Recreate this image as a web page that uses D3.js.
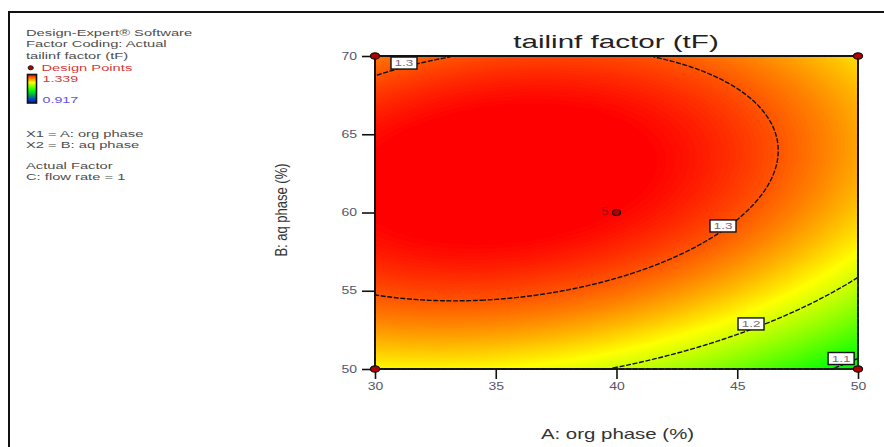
<!DOCTYPE html>
<html>
<head>
<meta charset="utf-8">
<script src="https://cdn.jsdelivr.net/npm/d3@7"></script>
<style>
  html, body { margin: 0; padding: 0; background: #fff; }
  svg { display: block; font-family: "Liberation Sans", Arial, sans-serif; }
</style>
</head>
<body>
<svg id="chart" width="884" height="447"></svg>
<script>
// ---- Data -------------------------------------------------------------
// Fitted quadratic model for the tailing factor, in coded units (a, b in [-1, 1]):
// tF = b0 + bA·a + bB·b + bAB·a·b + bAA·a² + bBB·b²
const modelTerms = ["Intercept", "A", "B", "AB", "A^2", "B^2"];
const modelCoefs = [1.3376, -0.0467, 0.0532, 0.0231, -0.0444, -0.0868];

const rangeA = [30, 50];          // A: org phase (%)
const rangeB = [50, 70];          // B: aq phase (%)
const ticksA = [30, 35, 40, 45, 50];
const ticksB = [50, 55, 60, 65, 70];

const responseRange = [0.917, 1.339];   // observed tF, min / max
const contourLevels = [1.1, 1.2, 1.3];

// contour label anchors (level, A, B)
const labelLevels = [1.3, 1.3, 1.2, 1.1];
const labelA = [31.2, 44.41, 45.57, 49.3];
const labelB = [69.55, 59.14, 52.88, 50.67];

// design points (A, B, replicates)
const designA = [30, 50, 30, 50, 40];
const designB = [50, 50, 70, 70, 60];
const designReps = [1, 1, 1, 1, 5];

const legendLines = [
  "Design-Expert\u00AE Software",
  "Factor Coding: Actual",
  "tailinf factor (tF)"
];
const factorLines = ["X1 = A: org phase", "X2 = B: aq phase"];
const actualFactorLines = ["Actual Factor", "C: flow rate = 1"];

// ---- Setup ------------------------------------------------------------
const svg = d3.select("#chart");
const plot = { left: 375, right: 858, top: 56, bottom: 369 };

const x = d3.scaleLinear().domain(rangeA).range([plot.left, plot.right]);
const y = d3.scaleLinear().domain(rangeB).range([plot.bottom, plot.top]);

const midA = (rangeA[0] + rangeA[1]) / 2, halfA = (rangeA[1] - rangeA[0]) / 2;
const midB = (rangeB[0] + rangeB[1]) / 2, halfB = (rangeB[1] - rangeB[0]) / 2;

function tF(A, B) {
  const a = (A - midA) / halfA, b = (B - midB) / halfB;
  const t = [1, a, b, a * b, a * a, b * b];
  return d3.sum(modelCoefs, (c, k) => c * t[k]);
}

const color = d3.scaleLinear()
  .domain([responseRange[0], 1.10, 1.222, responseRange[1]])
  .range(["#0000ff", "#00ff00", "#ffff00", "#ff0000"])
  .clamp(true);

// text helper: Design-Expert exports render text horizontally widened
function addText(parent, px, py, str, o = {}) {
  return parent.append("text")
    .attr("transform", `translate(${px},${py}) scale(${o.sx || 1.5},1)`)
    .attr("text-anchor", o.anchor || "start")
    .attr("font-size", o.size || 10)
    .attr("fill", o.fill || "#4d4d4d")
    .text(str);
}

// ---- Response surface grid ---------------------------------------------
const n = 242, m = 157;
const values = new Array(n * m);
for (let j = 0; j < m; j++) {
  for (let i = 0; i < n; i++) {
    const A = rangeA[0] + (i + 0.5) * (rangeA[1] - rangeA[0]) / n;
    const B = rangeB[1] - (j + 0.5) * (rangeB[1] - rangeB[0]) / m;
    values[j * n + i] = tF(A, B);
  }
}
const gx = d3.scaleLinear().domain([0, n]).range(rangeA);
const gy = d3.scaleLinear().domain([0, m]).range([rangeB[1], rangeB[0]]);
const path = d3.geoPath(d3.geoTransform({
  point(px, py) { this.stream.point(x(gx(px)), y(gy(py))); }
}));

// filled colour bands
const step = 0.002;
const bandThresholds = d3.range(1.0, 1.36, step);
const gFill = svg.append("g");
gFill.append("rect")
  .attr("x", plot.left).attr("y", plot.top)
  .attr("width", plot.right - plot.left).attr("height", plot.bottom - plot.top)
  .attr("fill", color(d3.min(values)));
gFill.selectAll("path")
  .data(d3.contours().size([n, m]).thresholds(bandThresholds)(values))
  .join("path")
  .attr("d", path)
  .attr("fill", d => color(d.value + step / 2))
  .attr("stroke", d => color(d.value + step / 2))
  .attr("stroke-width", 0.6);

// contour lines
svg.append("g")
  .selectAll("path")
  .data(d3.contours().size([n, m]).thresholds(contourLevels)(values))
  .join("path")
  .attr("d", path)
  .attr("fill", "none")
  .attr("stroke", "#111")
  .attr("stroke-width", 1.4)
  .attr("stroke-dasharray", "5,1.6");

// ---- Axes ---------------------------------------------------------------
const xAxis = svg.append("g")
  .attr("transform", `translate(0,${plot.bottom})`)
  .call(d3.axisBottom(x).tickValues(ticksA).tickSize(10).tickPadding(4).tickFormat(d3.format("d")));
const yAxis = svg.append("g")
  .attr("transform", `translate(${plot.left},0)`)
  .call(d3.axisLeft(y).tickValues(ticksB).tickSize(13).tickPadding(5).tickFormat(d3.format("d")));
[xAxis, yAxis].forEach(g => {
  g.select(".domain").remove();
  g.selectAll(".tick line").attr("stroke", "#111").attr("stroke-width", 1.6);
  g.selectAll(".tick text")
    .attr("font-family", "Liberation Sans, Arial, sans-serif")
    .attr("font-size", 10)
    .attr("fill", "#55556a");
});
xAxis.selectAll(".tick text").attr("transform", "scale(1.4,1)");
yAxis.selectAll(".tick text").attr("x", -18 / 1.4).attr("transform", "scale(1.4,1)");

// plot frame
svg.append("rect")
  .attr("x", plot.left).attr("y", plot.top)
  .attr("width", plot.right - plot.left).attr("height", plot.bottom - plot.top)
  .attr("fill", "none").attr("stroke", "#111").attr("stroke-width", 1.7);

// ---- Contour labels -------------------------------------------------------
const gLab = svg.append("g");
labelLevels.forEach((lev, k) => {
  const cx = x(labelA[k]), cy = y(labelB[k]);
  gLab.append("rect")
    .attr("x", cx - 13).attr("y", cy - 6)
    .attr("width", 26).attr("height", 12)
    .attr("fill", "#fff").attr("stroke", "#111").attr("stroke-width", 1.4);
  addText(gLab, cx, cy + 3.3, d3.format(".1f")(lev), { size: 9, sx: 1.5, anchor: "middle", fill: "#7a6a78" });
});

// ---- Design points ------------------------------------------------------
const gPts = svg.append("g");
designA.forEach((A, k) => {
  gPts.append("ellipse")
    .attr("cx", x(A)).attr("cy", y(designB[k]))
    .attr("rx", designReps[k] > 1 ? 4 : 4.6)
    .attr("ry", designReps[k] > 1 ? 3 : 3.2)
    .attr("fill", "#b00000").attr("stroke", "#111").attr("stroke-width", 1.2);
  if (designReps[k] > 1) {
    addText(gPts, x(A) - 8, y(designB[k]) + 2.5, String(designReps[k]),
      { size: 10, sx: 1.3, anchor: "end", fill: "#a01010" });
  }
});

// ---- Titles ---------------------------------------------------------------
addText(svg, 616, 48, "tailinf factor (tF)", { size: 18.5, sx: 1.6, anchor: "middle", fill: "#222" });
addText(svg, 617.5, 439, "A: org phase (%)", { size: 14, sx: 1.46, anchor: "middle", fill: "#333" });
svg.append("text")
  .attr("transform", `translate(287,210) rotate(-90) scale(1,1.3)`)
  .attr("text-anchor", "middle")
  .attr("font-size", 13)
  .attr("fill", "#333")
  .text("B: aq phase (%)");

// ---- Legend block -------------------------------------------------------
const gLeg = svg.append("g");
legendLines.forEach((s, k) => addText(gLeg, 26, 36 + k * 11.3, s, { size: 9.5, sx: 1.55 }));
gLeg.append("ellipse")
  .attr("cx", 30.7).attr("cy", 67.8).attr("rx", 2.6).attr("ry", 2)
  .attr("fill", "#c00000").attr("stroke", "#111").attr("stroke-width", 1);
addText(gLeg, 41.5, 71, "Design Points", { size: 9.5, sx: 1.55, fill: "#d43a3a" });
addText(gLeg, 42.5, 81.5, d3.format(".3f")(responseRange[1]), { size: 9.5, sx: 1.5, fill: "#d43a3a" });
addText(gLeg, 42.5, 103, d3.format(".3f")(responseRange[0]), { size: 9.5, sx: 1.5, fill: "#6450e6" });

const grad = svg.append("defs").append("linearGradient")
  .attr("id", "barGrad").attr("x1", 0).attr("y1", 0).attr("x2", 0).attr("y2", 1);
color.domain().slice().reverse().forEach(v => {
  grad.append("stop")
    .attr("offset", (responseRange[1] - v) / (responseRange[1] - responseRange[0]))
    .attr("stop-color", color(v));
});
gLeg.append("rect")
  .attr("x", 27.5).attr("y", 74.5).attr("width", 9).attr("height", 28.5)
  .attr("fill", "url(#barGrad)").attr("stroke", "#111").attr("stroke-width", 1.6);

factorLines.forEach((s, k) => addText(gLeg, 26, 136.5 + k * 11.2, s, { size: 9.5, sx: 1.55 }));
actualFactorLines.forEach((s, k) => addText(gLeg, 26, 168.5 + k * 11.2, s, { size: 9.5, sx: 1.55 }));

// ---- Outer frame ----------------------------------------------------------
svg.append("path")
  .attr("d", "M9,447 V12 H884")
  .attr("fill", "none").attr("stroke", "#111").attr("stroke-width", 2);
</script>
</body>
</html>
